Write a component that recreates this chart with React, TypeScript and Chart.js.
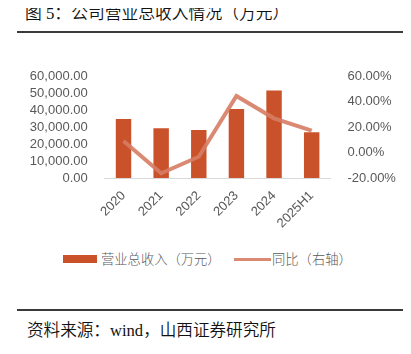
import React, { useEffect, useRef } from "react";
import { Chart, registerables } from "chart.js";

Chart.register(...registerables);

const categories = ["2020", "2021", "2022", "2023", "2024", "2025H1"];
const revenue = [34700, 29200, 28200, 40600, 51400, 26900];
const yoy = [0.09, -0.163, -0.033, 0.443, 0.268, 0.171];
const leftTicks = [0, 10000, 20000, 30000, 40000, 50000, 60000];
const rightTicks = [-0.2, 0, 0.2, 0.4, 0.6];

const BAR_COLOR = "#C9522A";
const LINE_COLOR = "rgba(214,124,100,0.9)";
const TICK_COLOR = "#595959";
const CJK = '"Noto Sans CJK SC", "Noto Sans", sans-serif';
const SERIF_CJK = '"Liberation Serif", "Noto Sans CJK SC", serif';
const TICK_FONT = { family: '"Liberation Sans", sans-serif', size: 13 };

export default function App() {
  const ref = useRef<HTMLCanvasElement | null>(null);

  useEffect(() => {
    if (!ref.current) return;
    const chart = new Chart(ref.current, {
      type: "bar",
      data: {
        labels: categories,
        datasets: [
          {
            type: "line",
            label: "同比（右轴）",
            data: yoy,
            yAxisID: "y1",
            borderColor: LINE_COLOR,
            backgroundColor: LINE_COLOR,
            borderWidth: 4,
            pointRadius: 0,
            tension: 0,
            order: 0,
          },
          {
            type: "bar",
            label: "营业总收入（万元）",
            data: revenue,
            yAxisID: "y",
            backgroundColor: BAR_COLOR,
            barPercentage: 0.41,
            categoryPercentage: 1,
            order: 1,
          },
        ],
      },
      options: {
        animation: false,
        responsive: false,
        maintainAspectRatio: false,
        layout: { padding: { top: 36, left: 0, right: 0, bottom: 0 } },
        plugins: { legend: { display: false }, tooltip: { enabled: false } },
        scales: {
          x: {
            grid: { display: false },
            border: { display: true, color: "#D9D9D9", width: 1 },
            ticks: {
              color: TICK_COLOR,
              font: TICK_FONT,
              maxRotation: 45,
              minRotation: 45,
              padding: 2,
              autoSkip: false,
            },
            afterFit: (s: any) => {
              s.height = 62;
            },
          },
          y: {
            position: "left",
            min: 0,
            max: 60000,
            afterBuildTicks: (s: any) => {
              s.ticks = leftTicks.map((v) => ({ value: v }));
            },
            grid: { display: false },
            border: { display: false },
            ticks: {
              color: TICK_COLOR,
              font: TICK_FONT,
              padding: 9,
              autoSkip: false,
              callback: (v: any) =>
                Number(v).toLocaleString("en-US", {
                  minimumFractionDigits: 2,
                  maximumFractionDigits: 2,
                }),
            },
            afterFit: (s: any) => {
              s.width = 104.7;
            },
          },
          y1: {
            position: "right",
            min: -0.2,
            max: 0.6,
            afterBuildTicks: (s: any) => {
              s.ticks = rightTicks.map((v) => ({ value: v }));
            },
            grid: { display: false },
            border: { display: false },
            ticks: {
              color: TICK_COLOR,
              font: TICK_FONT,
              padding: 9,
              autoSkip: false,
              callback: (v: any) => (Number(v) * 100).toFixed(2) + "%",
            },
            afterFit: (s: any) => {
              s.width = 80.5;
            },
          },
        },
      },
    });
    return () => chart.destroy();
  }, []);

  return (
    <div style={{ position: "relative", width: 411, height: 354, margin: -8, background: "#fff", overflow: "hidden" }}>
      <div
        style={{
          position: "absolute",
          left: 25,
          top: 4,
          fontFamily: SERIF_CJK,
          fontSize: 16.8,
          fontWeight: 350,
          lineHeight: "20px",
          color: "#111",
          whiteSpace: "nowrap",
        }}
      >
        图 5：公司营业总收入情况（万元）
      </div>
      <div style={{ position: "absolute", left: 17, top: 31, width: 391, height: 1.5, background: "#3a3a3a" }} />
      <canvas
        ref={ref}
        width={411}
        height={200}
        style={{ position: "absolute", left: 0, top: 40, width: 411, height: 200 }}
      />
      <div style={{ position: "absolute", left: 63, top: 255, width: 34, height: 8, background: BAR_COLOR }} />
      <div
        style={{
          position: "absolute",
          left: 101,
          top: 249,
          fontFamily: CJK,
          fontSize: 13.3,
          fontWeight: 300,
          lineHeight: "20px",
          color: TICK_COLOR,
          whiteSpace: "nowrap",
        }}
      >
        营业总收入（万元）
      </div>
      <div style={{ position: "absolute", left: 234, top: 258, width: 37, height: 3, background: LINE_COLOR }} />
      <div
        style={{
          position: "absolute",
          left: 272,
          top: 249,
          fontFamily: CJK,
          fontSize: 13.3,
          fontWeight: 300,
          lineHeight: "20px",
          color: TICK_COLOR,
          whiteSpace: "nowrap",
        }}
      >
        同比（右轴）
      </div>
      <div style={{ position: "absolute", left: 17, top: 309, width: 391, height: 1.5, background: "#3a3a3a" }} />
      <div
        style={{
          position: "absolute",
          left: 27,
          top: 321,
          fontFamily: SERIF_CJK,
          fontSize: 16.6,
          fontWeight: 350,
          lineHeight: "20px",
          color: "#111",
          whiteSpace: "nowrap",
        }}
      >
        资料来源：wind，山西证券研究所
      </div>
    </div>
  );
}
